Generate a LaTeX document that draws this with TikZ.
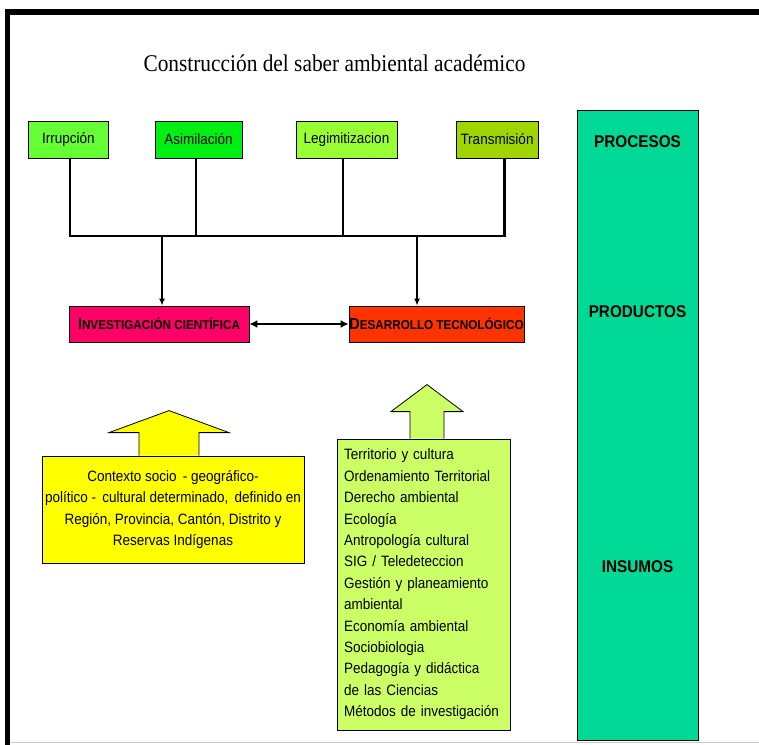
\documentclass[tikz,border=0pt]{standalone}
\usepackage{fontspec}
\setmainfont{Liberation Sans}[FakeStretch=0.9]
\newfontfamily\titlefont{Liberation Serif}[FakeStretch=0.89]
\usetikzlibrary{arrows.meta, positioning, calc}

\definecolor{IrrGreen}{RGB}{102, 255, 51}
\definecolor{AsiGreen}{RGB}{0, 240, 20}
\definecolor{LegGreen}{RGB}{153, 255, 51}
\definecolor{TraGreen}{RGB}{160, 214, 0}
\definecolor{InvPink}{RGB}{255, 0, 102}
\definecolor{DesRed}{RGB}{255, 51, 0}
\definecolor{CtxYellow}{RGB}{255, 255, 0}
\definecolor{InsLime}{RGB}{204, 255, 102}
\definecolor{ColTeal}{RGB}{0, 217, 150}

\newcommand{\capsword}[2]{{\fontsize{16}{16}\selectfont #1}{\fontsize{13}{13}\selectfont #2}}

\begin{document}
\begin{tikzpicture}[x=1pt, y=-1pt,
        topbox/.style={rectangle, draw=black, thick, minimum height=37pt, inner sep=0pt, font=\fontsize{15}{17}\selectfont},
        resbox/.style={rectangle, draw=black, thick, minimum height=36pt, inner sep=0pt, font=\bfseries},
        textbox/.style={rectangle, draw=black, thick, inner sep=0pt, font=\fontsize{15}{21.4}\selectfont},
        collabel/.style={font=\fontsize{17}{17}\selectfont\bfseries},
        link/.style={line width=2.5pt},
        arrow/.style={-{Latex[length=7pt, width=6pt]}, line width=2pt},
        dblarrow/.style={{Latex[length=8pt, width=8pt]}-{Latex[length=8pt, width=8pt]}, line width=2.5pt},
        bigarrow/.style={draw=black, thick, line join=miter}
    ]
        \useasboundingbox (0,0) rectangle (759,744);

        % Frame
        \draw[line width=5.5pt, line join=miter] (7.5,745) -- (7.5,12) -- (760,12);
        \draw[black!20, line width=1pt] (10,742.5) -- (759,742.5);

        % Title
        \node[font=\titlefont\fontsize{24}{26}\selectfont] (title) at (334.5,63) {Construcción del saber ambiental académico};

        % Processes
        \node[topbox, fill=IrrGreen, minimum width=80pt] (irr) at (68.5,139.5) {Irrupción};
        \node[topbox, fill=AsiGreen, minimum width=87pt] (asi) at (198.5,139.5) {Asimilación};
        \node[topbox, fill=LegGreen, minimum width=101pt] (leg) at (346.5,139.5) {Legimitizacion};
        \node[topbox, fill=TraGreen, minimum width=82pt] (tra) at (497,139.5) {Transmisión};

        % Products
        \node[resbox, fill=InvPink, minimum width=180pt] (inv) at (159,324) {\capsword{I}{NVESTIGACIÓN CIENTÍFICA}};
        \node[resbox, fill=DesRed, minimum width=175pt] (des) at (436.5,324) {\capsword{D}{ESARROLLO TECNOLÓGICO}};

        % Tree
        \coordinate (bar) at (0,236);
        \coordinate (irrB) at ([xshift=1.5pt]irr.south);
        \coordinate (asiB) at ([xshift=-2.5pt]asi.south);
        \coordinate (legB) at ([xshift=-3.5pt]leg.south);
        \coordinate (traB) at ([xshift=7.5pt]tra.south);
        \draw[link, line join=miter] (irrB) |- (traB |- bar) -- (traB);
        \draw[link] (asiB) -- (asiB |- bar);
        \draw[link] (legB) -- (legB |- bar);

        \coordinate (invT) at ([xshift=3pt]inv.north);
        \coordinate (desT) at ([xshift=-19.5pt]des.north);
        \draw[arrow] (invT |- bar) -- (invT);
        \draw[arrow] (desT |- bar) -- (desT);
        \draw[dblarrow] (inv) -- (des);

        % Inputs
        \node[textbox, fill=CtxYellow, minimum width=262pt, minimum height=107pt, align=center] (ctx) at (173,509.5)
            {Contexto socio \,- geográfico-\\político - \,cultural determinado, \,definido en\\Región, Provincia, Cantón, Distrito y\\Reservas Indígenas};
        \node[textbox, fill=InsLime, minimum width=173pt, minimum height=291pt, text width=159pt, align=left] (lim) at (423.5,584.5)
            {Territorio y cultura\\Ordenamiento Territorial\\Derecho ambiental\\Ecología\\Antropología cultural\\SIG / Teledeteccion\\Gestión y planeamiento\\ambiental\\Economía ambiental\\Sociobiologia\\Pedagogía y didáctica\\de las Ciencias\\Métodos de investigación};

        % Block arrows
        \draw[bigarrow, fill=CtxYellow] ($(ctx.north)+(-34,0)$) -- ++(0,-23) -- ++(-30,0) -- ++(60,-22) -- ++(60,22) -- ++(-30,0) -- ++(0,23);
        \draw[bigarrow, fill=InsLime] ($(lim.north)+(-13.5,0)$) -- ++(0,-27) -- ++(-19,0) -- ++(36,-27) -- ++(36,27) -- ++(-19,0) -- ++(0,27);

        % Levels
        \node[rectangle, draw=black, thick, fill=ColTeal, minimum width=121pt, minimum height=630pt] (col) at (637.5,425) {};
        \node[collabel] (proc) at (637.5,142) {PROCESOS};
        \node[collabel] (prod) at (637.5,312) {PRODUCTOS};
        \node[collabel] (insu) at (637.5,567) {INSUMOS};
    \end{tikzpicture}
\end{document}
